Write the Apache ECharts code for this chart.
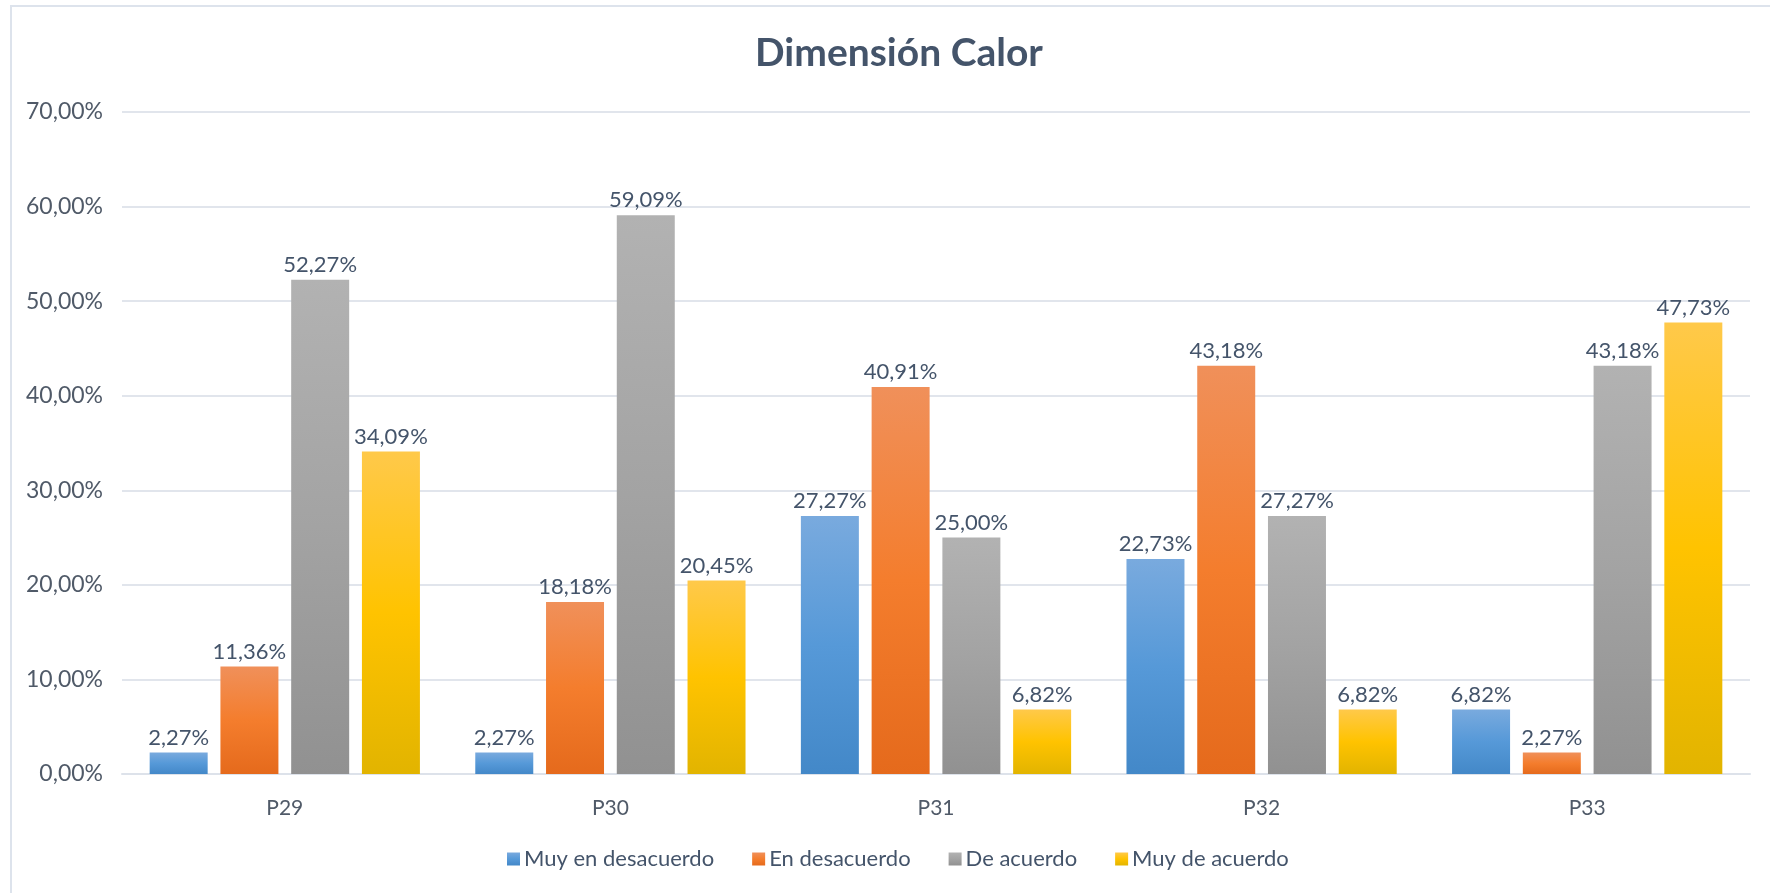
<!DOCTYPE html>
<html>
<head>
<meta charset="utf-8">
<title>Dimensión Calor</title>
<script src="https://cdn.jsdelivr.net/npm/echarts@6/dist/echarts.min.js"></script>
<style>
  html, body { margin: 0; padding: 0; background: #ffffff; }
  #chart { width: 1770px; height: 893px; }
</style>
</head>
<body>
<div id="chart"></div>
<script>
// Questions on the category axis
const categories = ['P29', 'P30', 'P31', 'P32', 'P33'];

// Share of answers (%) per response level
const muyEnDesacuerdo = [2.27, 2.27, 27.27, 22.73, 6.82];
const enDesacuerdo    = [11.36, 18.18, 40.91, 43.18, 2.27];
const deAcuerdo       = [52.27, 59.09, 25.00, 27.27, 43.18];
const muyDeAcuerdo    = [34.09, 20.45, 6.82, 6.82, 47.73];

const seriesNames = ['Muy en desacuerdo', 'En desacuerdo', 'De acuerdo', 'Muy de acuerdo'];

// Y axis range and step
const yMax = 70;
const yStep = 10;

const FONT = 'Lato, "Open Sans", sans-serif';

// Vertical gradients: lighter on top, darker at the base
function grad(top, mid, bottom) {
  return new echarts.graphic.LinearGradient(0, 0, 0, 1, [
    { offset: 0, color: top },
    { offset: 0.5, color: mid },
    { offset: 1, color: bottom }
  ]);
}
const fills = [
  grad('#79aade', '#5699d8', '#4388c8'),
  grad('#f0905a', '#f47d2d', '#e56a1c'),
  grad('#b2b2b2', '#a3a3a3', '#919191'),
  grad('#ffc94a', '#ffc300', '#e2b400')
];

const pct = v => v.toFixed(2).replace('.', ',') + '%';

const dataSets = [muyEnDesacuerdo, enDesacuerdo, deAcuerdo, muyDeAcuerdo];

const chart = echarts.init(document.getElementById('chart'), null, { renderer: 'canvas' });

chart.setOption({
  backgroundColor: '#ffffff',
  animation: false,
  title: {
    text: 'Dimensión Calor',
    left: 750,
    top: 29,
    textStyle: {
      fontFamily: FONT,
      fontWeight: 'bold',
      fontSize: 39,
      color: '#44546a'
    }
  },
  legend: {
    data: seriesNames,
    bottom: 18,
    left: 502,
    itemWidth: 13,
    itemHeight: 13,
    itemGap: 38,
    icon: 'rect',
    textStyle: {
      fontFamily: FONT,
      fontSize: 22,
      color: '#44546a',
      padding: [0, 0, 0, -1]
    }
  },
  grid: {
    left: 122,
    right: 20,
    top: 112,
    bottom: 119,
    containLabel: false
  },
  xAxis: {
    type: 'category',
    data: categories,
    axisLine: { show: true, lineStyle: { color: '#dde2ea', width: 2 } },
    axisTick: { show: false },
    axisLabel: {
      margin: 24,
      fontFamily: FONT,
      fontSize: 21,
      color: '#505a68'
    }
  },
  yAxis: {
    type: 'value',
    min: 0,
    max: yMax,
    interval: yStep,
    axisLine: { show: false },
    axisTick: { show: false },
    splitLine: { lineStyle: { color: '#e1e5ec', width: 2 } },
    axisLabel: {
      margin: 19,
      fontFamily: FONT,
      fontSize: 23,
      color: '#505a68',
      formatter: v => pct(v)
    }
  },
  graphic: [
    {
      type: 'rect',
      shape: { x: 11, y: 6, width: 1800, height: 950 },
      style: { fill: 'none', stroke: '#dde3ec', lineWidth: 2 },
      silent: true,
      z: 0
    }
  ],
  series: seriesNames.map((name, i) => ({
    name: name,
    type: 'bar',
    data: dataSets[i],
    barGap: '22%',
    barCategoryGap: '17%',
    itemStyle: { color: fills[i] },
    label: {
      show: true,
      position: 'top',
      distance: 4,
      fontFamily: FONT,
      fontSize: 22,
      color: '#44546a',
      formatter: p => pct(p.value)
    }
  }))
});
</script>
</body>
</html>
